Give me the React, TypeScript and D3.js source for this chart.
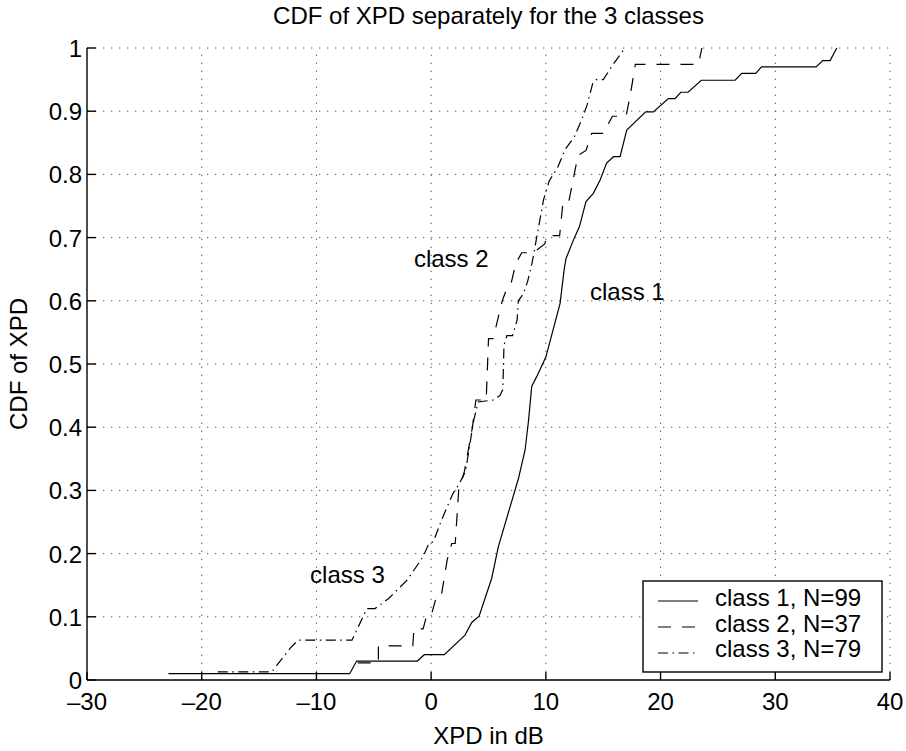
import * as d3 from "d3"

// XPD (dB) / CDF vertices, one polyline per class
const class1X = [-22.9, -7.1, -6.5, -1.2, -0.6, 1.15, 2.95, 3.54, 4.18, 5.28, 5.86, 6.88, 7.6, 8.19, 8.48, 8.77, 9.2, 10.0, 11.24, 11.6, 11.76, 12.4, 12.92, 13.5, 14.14, 14.73, 15.3, 15.89, 16.47, 17.05, 18.7, 19.37, 20.68, 21.26, 21.76, 22.4, 23.55, 26.5, 27.07, 28.3, 28.8, 33.56, 34.14, 34.78, 35.36]
const class1Y = [0.01, 0.01, 0.03, 0.03, 0.04, 0.04, 0.071, 0.091, 0.101, 0.161, 0.211, 0.274, 0.318, 0.364, 0.409, 0.465, 0.48, 0.511, 0.596, 0.65, 0.667, 0.696, 0.717, 0.757, 0.77, 0.791, 0.818, 0.828, 0.828, 0.87, 0.899, 0.899, 0.92, 0.92, 0.93, 0.93, 0.949, 0.949, 0.96, 0.96, 0.97, 0.97, 0.98, 0.98, 1.0]

const class2X = [-6.4, -4.6, -4.6, -1.6, -1.5, -0.7, -0.3, 0.1, 0.5, 0.9, 1.4, 1.8, 2.1, 2.4, 2.9, 3.6, 3.9, 4.8, 5.0, 5.4, 6.2, 6.7, 7.0, 7.4, 7.9, 8.9, 9.9, 10.1, 11.2, 11.5, 12.0, 12.8, 13.5, 14.0, 15.0, 15.8, 17.0, 17.4, 17.8, 23.3, 23.6]
const class2Y = [0.027, 0.027, 0.054, 0.054, 0.081, 0.081, 0.108, 0.108, 0.135, 0.135, 0.19, 0.216, 0.216, 0.30, 0.33, 0.40, 0.443, 0.443, 0.54, 0.54, 0.60, 0.625, 0.63, 0.66, 0.676, 0.676, 0.69, 0.703, 0.703, 0.757, 0.757, 0.83, 0.838, 0.865, 0.865, 0.892, 0.892, 0.93, 0.974, 0.974, 1.0]

const class3X = [-18.6, -13.9, -12.3, -11.6, -6.9, -6.2, -5.6, -4.9, -3.7, -2.1, -0.7, -0.2, 0.2, 0.9, 1.9, 2.4, 3.0, 3.7, 4.1, 5.4, 6.0, 6.25, 6.35, 6.6, 7.1, 7.5, 7.6, 8.0, 8.4, 8.8, 9.2, 9.4, 9.8, 10.3, 11.0, 11.7, 12.5, 13.2, 13.6, 14.1, 14.4, 15.0, 15.9, 16.5, 16.9]
const class3Y = [0.0127, 0.0127, 0.05, 0.063, 0.063, 0.09, 0.113, 0.113, 0.129, 0.158, 0.195, 0.216, 0.219, 0.253, 0.295, 0.309, 0.33, 0.41, 0.44, 0.443, 0.45, 0.46, 0.53, 0.545, 0.545, 0.57, 0.60, 0.61, 0.63, 0.66, 0.70, 0.72, 0.76, 0.79, 0.81, 0.84, 0.86, 0.89, 0.91, 0.945, 0.95, 0.95, 0.975, 0.99, 1.0]

const legendLabels = ["class 1, N=99", "class 2, N=37", "class 3, N=79"]
const curveLabels = ["class 1", "class 2", "class 3"]
const xTicks = [-30, -20, -10, 0, 10, 20, 30, 40]
const yTicks = [0, 0.1, 0.2, 0.3, 0.4, 0.5, 0.6, 0.7, 0.8, 0.9, 1]

const W = 906
const H = 751
const FONT = "'Liberation Sans', Arial, Helvetica, sans-serif"
const FS = 24

const dashes = [null, "13,11", "10,4.5,1.5,4.5"]

export default function App() {
  const x = d3.scaleLinear([-30, 40], [87, 890])
  const y = d3.scaleLinear([0, 1], [680, 48])

  const series = [
    { xs: class1X, ys: class1Y },
    { xs: class2X, ys: class2Y },
    { xs: class3X, ys: class3Y },
  ]
  const line = d3.line<number>()

  // text labels placed like matlab text(x, y, ...) in data units
  const labelPos = [
    { lx: 13.85, ly: 0.601 },
    { lx: -1.5, ly: 0.653 },
    { lx: -10.55, ly: 0.153 },
  ]

  const fmtX = (v: number) => (v < 0 ? "\u2013" + Math.abs(v) : String(v))

  const lgX = 643, lgY = 581, lgW = 239, lgH = 91, rowH = 25.5

  return (
    <svg width={W} height={H} style={{ position: "absolute", left: 0, top: 0, background: "#fff" }}
      fontFamily={FONT} fontSize={FS}>
      <rect x={0} y={0} width={W} height={H} fill="#fff" />

      {/* grid */}
      <g stroke="#555" strokeWidth={1} strokeDasharray="1.3,6.7">
        {xTicks.slice(1).map(t => (
          <line key={"gx" + t} x1={x(t)} x2={x(t)} y1={y(0)} y2={y(1)} />
        ))}
        {yTicks.slice(1).map(t => (
          <line key={"gy" + t} x1={x(-30)} x2={x(40)} y1={y(t)} y2={y(t)} />
        ))}
      </g>

      {/* curves */}
      <g fill="none" stroke="#000" strokeWidth={1.2}>
        {series.map((s, i) => (
          <path key={i} d={line(s.xs.map((v, j) => [x(v), y(s.ys[j])]) as any) || ""}
            strokeDasharray={dashes[i] || undefined} />
        ))}
      </g>

      {/* axes */}
      <g stroke="#000" strokeWidth={1.4}>
        <line x1={x(-30)} x2={x(40)} y1={y(0)} y2={y(0)} />
        <line x1={x(-30)} x2={x(-30)} y1={y(0)} y2={y(1)} />
        {xTicks.map(t => (
          <line key={"tx" + t} x1={x(t)} x2={x(t)} y1={y(0)} y2={y(0) - 8} />
        ))}
        {yTicks.map(t => (
          <line key={"ty" + t} x1={x(-30)} x2={x(-30) + 9} y1={y(t)} y2={y(t)} />
        ))}
      </g>

      {xTicks.map(t => (
        <text key={"lx" + t} x={x(t)} y={710} textAnchor="middle">{fmtX(t)}</text>
      ))}
      {yTicks.map(t => (
        <text key={"ly" + t} x={x(-30) - 5} y={y(t) + 9} textAnchor="end">{String(t)}</text>
      ))}

      <text x={(x(-30) + x(40)) / 2} y={24} textAnchor="middle">CDF of XPD separately for the 3 classes</text>
      <text x={(x(-30) + x(40)) / 2} y={744} textAnchor="middle">XPD in dB</text>
      <text transform={`translate(27,${(y(0) + y(1)) / 2}) rotate(-90)`} textAnchor="middle">CDF of XPD</text>

      {curveLabels.map((c, i) => (
        <text key={c} x={x(labelPos[i].lx)} y={y(labelPos[i].ly)}>{c}</text>
      ))}

      {/* legend */}
      <rect x={lgX} y={lgY} width={lgW} height={lgH} fill="#fff" stroke="#000" strokeWidth={1.4} />
      {legendLabels.map((l, i) => (
        <g key={l}>
          <line x1={lgX + 15} x2={lgX + 55} y1={lgY + 20 + i * 26} y2={lgY + 20 + i * 26}
            stroke="#000" strokeWidth={1.2} strokeDasharray={dashes[i] || undefined} />
          <text x={lgX + 72} y={lgY + 25 + i * rowH}>{l}</text>
        </g>
      ))}
    </svg>
  )
}
